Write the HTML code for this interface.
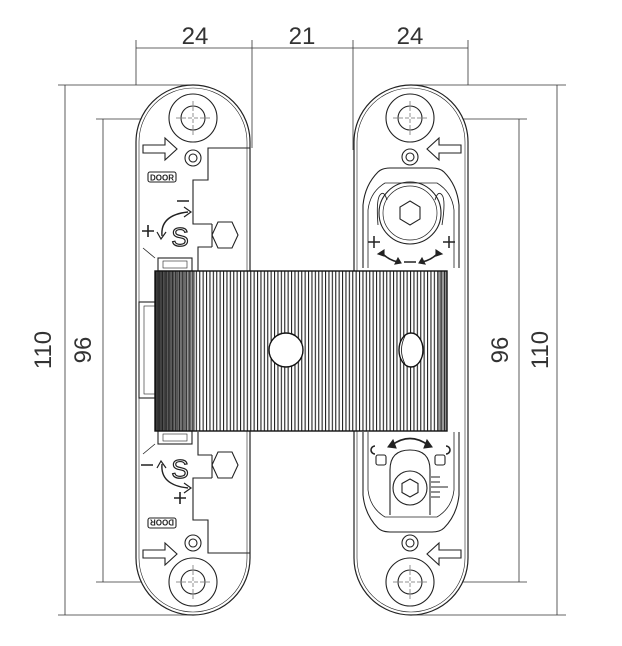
<!DOCTYPE html>
<html><head><meta charset="utf-8"><style>html,body{margin:0;padding:0;background:#fff}svg{display:block}</style></head><body>
<svg width="622" height="646" viewBox="0 0 622 646" xmlns="http://www.w3.org/2000/svg" font-family="Liberation Sans, sans-serif">
<defs>
<pattern id="st" x="155" y="0" width="3.4" height="10" patternUnits="userSpaceOnUse"><rect width="3.4" height="10" fill="#fff"/><rect width="1.1" height="10" fill="#222"/></pattern>
<pattern id="sd" x="155" y="0" width="2.2" height="10" patternUnits="userSpaceOnUse"><rect width="2.2" height="10" fill="#777"/><rect width="1.1" height="10" fill="#111"/></pattern>
<linearGradient id="fade" x1="0" x2="1"><stop offset="0" stop-color="#111" stop-opacity="0.7"/><stop offset="1" stop-color="#111" stop-opacity="0"/></linearGradient>
</defs>
<g stroke="#333" stroke-width="0.8" fill="none">
<line x1="136" y1="40" x2="136" y2="85"/><line x1="252" y1="40" x2="252" y2="148"/>
<line x1="353" y1="40" x2="353" y2="150"/><line x1="468" y1="40" x2="468" y2="85"/>
<line x1="136" y1="48" x2="468" y2="48"/>
<line x1="58" y1="85" x2="192" y2="85"/><line x1="410" y1="85" x2="566" y2="85"/>
<line x1="96" y1="119" x2="180" y2="119"/><line x1="422" y1="119" x2="527" y2="119"/>
<line x1="96" y1="582" x2="180" y2="582"/><line x1="422" y1="582" x2="527" y2="582"/>
<line x1="58" y1="615" x2="192" y2="615"/><line x1="410" y1="615" x2="566" y2="615"/>
<line x1="65" y1="85" x2="65" y2="615"/><line x1="103" y1="119" x2="103" y2="582"/>
<line x1="519" y1="119" x2="519" y2="582"/><line x1="557" y1="85" x2="557" y2="615"/>
</g>
<g font-size="24" fill="#333" text-anchor="middle">
<text x="195" y="44">24</text><text x="302" y="44">21</text><text x="410" y="44">24</text>
<text transform="translate(51,350) rotate(-90)">110</text>
<text transform="translate(91,350) rotate(-90)">96</text>
<text transform="translate(508,350) rotate(-90)">96</text>
<text transform="translate(548,350) rotate(-90)">110</text>
</g>
<g stroke="#222" stroke-width="1.2" fill="#fff">
<path d="M136 142 A57 57 0 0 1 250 142 L250 558 A57 57 0 0 1 136 558 Z"/>
<path d="M139 142 A54 54 0 0 1 247 142 L247 558 A54 54 0 0 1 139 558 Z" stroke-width="0.6"/>
<path d="M354 142 A57 57 0 0 1 468 142 L468 558 A57 57 0 0 1 354 558 Z"/>
<path d="M357 142 A54 54 0 0 1 465 142 L465 558 A54 54 0 0 1 357 558 Z" stroke-width="0.6"/>
</g>
<g stroke="#222" stroke-width="1.1" fill="none">
<circle cx="193" cy="118" r="24"/><circle cx="193" cy="118" r="12"/>
<circle cx="410" cy="118" r="24"/><circle cx="410" cy="118" r="12"/>
<circle cx="193" cy="582" r="24"/><circle cx="193" cy="582" r="12"/>
<circle cx="410" cy="582" r="24"/><circle cx="410" cy="582" r="12"/>
<g stroke-width="0.5" stroke-dasharray="4 2">
<line x1="176" y1="118" x2="210" y2="118"/><line x1="193" y1="101" x2="193" y2="135"/>
<line x1="393" y1="118" x2="427" y2="118"/><line x1="410" y1="101" x2="410" y2="135"/>
<line x1="176" y1="582" x2="210" y2="582"/><line x1="193" y1="565" x2="193" y2="599"/>
<line x1="393" y1="582" x2="427" y2="582"/><line x1="410" y1="565" x2="410" y2="599"/>
</g>
<circle cx="193" cy="158" r="8"/><circle cx="193" cy="158" r="4"/>
<circle cx="410" cy="157" r="8"/><circle cx="410" cy="157" r="4"/>
<circle cx="193" cy="543" r="8"/><circle cx="193" cy="543" r="4"/>
<circle cx="410" cy="543" r="8"/><circle cx="410" cy="543" r="4"/>
<path d="M143 145 L165 145 L165 138 L177 149 L165 160 L165 153 L143 153 Z"/>
<path d="M461 145 L439 145 L439 138 L427 149 L439 160 L439 153 L461 153 Z"/>
<path d="M143 550 L165 550 L165 543 L177 554 L165 565 L165 558 L143 558 Z"/>
<path d="M461 550 L439 550 L439 543 L427 554 L439 565 L439 558 L461 558 Z"/>
<path d="M250 148 L208 148 L208 180 L193 180 L193 224 L212 224 M212 247 L198 247 L198 271"/>
<path d="M212 224 L212 247"/>
<path d="M218 222 L232 222 L238 235 L232 248 L218 248 L212 235 Z"/>
<path d="M250 553 L208 553 L208 520 L193 520 L193 478 L212 478 M212 455 L198 455 L198 432"/>
<path d="M212 455 L212 478"/>
<path d="M218 452 L232 452 L238 465 L232 478 L218 478 L212 465 Z"/>
<rect x="158" y="258" width="34" height="13"/><rect x="163" y="261" width="24" height="7" stroke-width="0.6"/>
<rect x="158" y="431" width="34" height="13"/><rect x="163" y="434" width="24" height="7" stroke-width="0.6"/>
<path d="M143 248 L155 258 M143 454 L155 444" stroke-width="0.8"/>
<rect x="139" y="302" width="16" height="96"/>
<rect x="144" y="306" width="11" height="88" stroke-width="0.6"/>
<!-- right top shield -->
<path d="M363 268 L363 205 Q365 185 378 172 Q382 168 390 168 L432 168 Q440 168 444 172 Q457 185 459 205 L459 268"/>
<path d="M368 268 L368 210 Q370 192 385 183 L437 183 Q452 192 454 210 L454 268" stroke-width="0.8"/>
<path d="M378 225 Q376 200 380 195 Q384 190 387 200 M442 225 Q446 200 442 195 Q438 190 435 200" stroke-width="0.9"/>
<circle cx="410" cy="213" r="31"/><circle cx="410" cy="213" r="27" stroke-width="0.7"/>
<path d="M410 201 L420 207 L420 219 L410 225 L400 219 L400 207 Z"/>
<!-- right bottom shield -->
<path d="M363 432 L363 495 Q365 515 378 528 Q382 532 390 532 L432 532 Q440 532 444 528 Q457 515 459 495 L459 432"/>
<path d="M368 432 L368 490 Q370 508 385 517 L437 517 Q452 508 454 490 L454 432" stroke-width="0.8"/>
<path d="M390 515 L390 470 Q390 450 410 450 Q430 450 430 470 L430 515"/>
<circle cx="410" cy="488" r="17"/>
<path d="M410 479 L418 483.5 L418 492.5 L410 497 L402 492.5 L402 483.5 Z"/>
<path d="M431 477 L440 477 M431 482 L440 482 M431 487 L448 487 M431 492 L440 492 M431 497 L440 497" stroke-width="0.9"/>
<rect x="376" y="455" width="10" height="10" rx="2"/><rect x="435" y="455" width="10" height="10" rx="2"/>
<path d="M375 446 A4 4 0 0 0 375 454 M446 454 A4 4 0 0 0 446 446" stroke-width="1.6"/>
<path d="M392 445 Q410 432 428 445" stroke-width="1.6"/>
<path d="M388 447 L393 440 L396 448 Z M432 447 L427 440 L424 448 Z" fill="#222"/>
<!-- right top +/- arrows -->
<path d="M368 242 L380 242 M374 236 L374 248 M443 242 L455 242 M449 236 L449 248" stroke-width="1.5"/>
<path d="M381 252 Q388 260 398 262 M439 252 Q432 260 422 262 M404 262 L416 262" stroke-width="1.6"/>
<path d="M378 254 L384 250 L384 256 Z M398 258 L401 263 L395 264 Z M442 254 L436 250 L436 256 Z M422 258 L419 263 L425 264 Z" fill="#222"/>
<!-- left symbols -->
<path d="M177 201 L189 201 M142 231 L154 231 M148 225 L148 237" stroke-width="1.6"/>
<path d="M162 236 Q160 215 188 212" stroke-width="1.4"/>
<path d="M184 207 L191 212 L184 217 M157 232 L161 239 L166 232" stroke-width="1.2"/>
<path d="M141 465 L153 465 M174 498 L186 498 M180 492 L180 504" stroke-width="1.6"/>
<path d="M162 464 Q160 485 188 488" stroke-width="1.4"/>
<path d="M184 483 L191 488 L184 493 M157 468 L161 461 L166 468" stroke-width="1.2"/>
<rect x="148" y="172" width="28" height="10" rx="2"/>
<rect x="148" y="518" width="28" height="10" rx="2"/>
</g>
<text x="180" y="246" font-size="26" text-anchor="middle" fill="#fff" stroke="#222" stroke-width="1.2">S</text>
<text x="180" y="478" font-size="26" text-anchor="middle" fill="#fff" stroke="#222" stroke-width="1.2">S</text>
<text x="162" y="180.5" font-size="8" font-weight="bold" text-anchor="middle" fill="#222">DOOR</text>
<text transform="translate(162,519.5) rotate(180)" font-size="8" font-weight="bold" text-anchor="middle" fill="#222">DOOR</text>
<rect x="155" y="271" width="292" height="160" fill="url(#st)"/>
<rect x="155" y="271" width="40" height="160" fill="url(#sd)" opacity="0.6"/>
<rect x="155" y="271" width="40" height="160" fill="url(#fade)"/>
<rect x="438" y="271" width="9" height="160" fill="#333" opacity="0.5"/>
<rect x="155" y="271" width="292" height="160" fill="none" stroke="#111" stroke-width="1.4"/>
<circle cx="286" cy="350" r="17" fill="#fff" stroke="#111" stroke-width="1.4"/>
<ellipse cx="411" cy="350" rx="12" ry="17" fill="#fff" stroke="#111" stroke-width="1.4"/>
<path d="M405 336 Q398 350 405 364" fill="none" stroke="#111" stroke-width="0.8"/>
</svg>
</body></html>
